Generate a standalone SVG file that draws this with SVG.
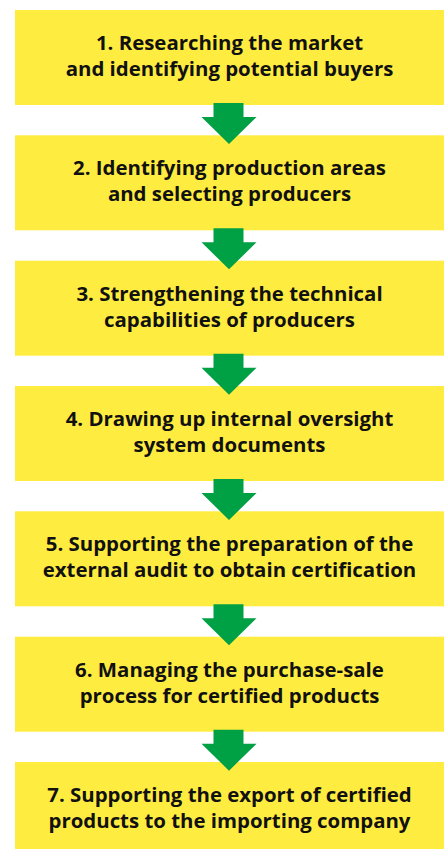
<svg xmlns="http://www.w3.org/2000/svg" width="446" height="849" viewBox="0 0 446 849">
  <style>
    .box { fill: #FFEC40; }
    .arrow { fill: #00A045; }
    .label { font-family: "Open Sans", "Liberation Sans", sans-serif; font-weight: 700; font-size: 20.4px; fill: #111111; text-anchor: middle; }
  </style>
  <rect width="446" height="849" fill="#FFFFFF"/>

  <g id="step1">
    <rect class="box" x="15" y="10" width="429" height="95"/>
    <text class="label" x="229.5" y="50">1. Researching the market</text>
    <text class="label" x="229.5" y="76">and identifying potential buyers</text>
  </g>
  <g id="step2">
    <rect class="box" x="15" y="135.3" width="429" height="95"/>
    <text class="label" x="229.5" y="175.3">2. Identifying production areas</text>
    <text class="label" x="229.5" y="201.3">and selecting producers</text>
  </g>
  <g id="step3">
    <rect class="box" x="15" y="260.7" width="429" height="95"/>
    <text class="label" x="229.5" y="300.7">3. Strengthening the technical</text>
    <text class="label" x="229.5" y="326.7">capabilities of producers</text>
  </g>
  <g id="step4">
    <rect class="box" x="15" y="386" width="429" height="95"/>
    <text class="label" x="229.5" y="426">4. Drawing up internal oversight</text>
    <text class="label" x="229.5" y="452">system documents</text>
  </g>
  <g id="step5">
    <rect class="box" x="15" y="511.3" width="429" height="95"/>
    <text class="label" x="229.5" y="551.3">5. Supporting the preparation of the</text>
    <text class="label" x="229.5" y="577.3">external audit to obtain certification</text>
  </g>
  <g id="step6">
    <rect class="box" x="15" y="636.7" width="429" height="95"/>
    <text class="label" x="229.5" y="676.7">6. Managing the purchase-sale</text>
    <text class="label" x="229.5" y="702.7">process for certified products</text>
  </g>
  <g id="step7">
    <rect class="box" x="15" y="762" width="429" height="95"/>
    <text class="label" x="229.5" y="802">7. Supporting the export of certified</text>
    <text class="label" x="229.5" y="828">products to the importing company</text>
  </g>

  <!-- block arrows between consecutive steps; each path is drawn relative to its translate origin (bottom edge of the upper box) -->
  <defs>
    <path id="down" d="M213.5,-2 H243.5 V12 H256.5 L229,39 L201.5,12 H213.5 Z"/>
  </defs>
  <g id="connectors" class="arrow">
    <use href="#down" transform="translate(0,105)"/>
    <use href="#down" transform="translate(0,230.3)"/>
    <use href="#down" transform="translate(0,355.7)"/>
    <use href="#down" transform="translate(0,481)"/>
    <use href="#down" transform="translate(0,606.3)"/>
    <use href="#down" transform="translate(0,731.7)"/>
  </g>
</svg>
